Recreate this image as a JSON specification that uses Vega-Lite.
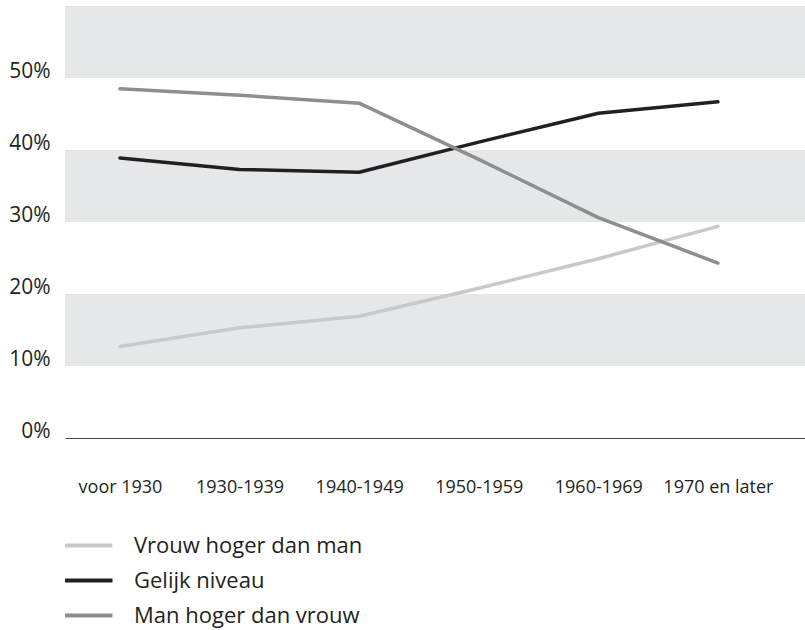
{
  "$schema": "https://vega.github.io/schema/vega-lite/v6.json",
  "width": 740,
  "height": 432,
  "autosize": "none",
  "padding": {"left": 65, "top": 6, "right": 0, "bottom": 192},
  "background": "white",
  "config": {
    "view": {"stroke": null},
    "font": "Open Sans",
    "text": {"font": "Open Sans"}
  },
  "datasets": {
    "bands": [
      {"lo": 50, "hi": 60},
      {"lo": 30, "hi": 40},
      {"lo": 10, "hi": 20}
    ],
    "series": [
      {"periode": "voor 1930", "reeks": "Vrouw hoger dan man", "waarde": 12.7},
      {"periode": "1930-1939", "reeks": "Vrouw hoger dan man", "waarde": 15.3},
      {"periode": "1940-1949", "reeks": "Vrouw hoger dan man", "waarde": 16.9},
      {"periode": "1950-1959", "reeks": "Vrouw hoger dan man", "waarde": 20.8},
      {"periode": "1960-1969", "reeks": "Vrouw hoger dan man", "waarde": 24.9},
      {"periode": "1970 en later", "reeks": "Vrouw hoger dan man", "waarde": 29.4},
      {"periode": "voor 1930", "reeks": "Gelijk niveau", "waarde": 38.9},
      {"periode": "1930-1939", "reeks": "Gelijk niveau", "waarde": 37.3},
      {"periode": "1940-1949", "reeks": "Gelijk niveau", "waarde": 36.9},
      {"periode": "1950-1959", "reeks": "Gelijk niveau", "waarde": 41.1},
      {"periode": "1960-1969", "reeks": "Gelijk niveau", "waarde": 45.1},
      {"periode": "1970 en later", "reeks": "Gelijk niveau", "waarde": 46.7},
      {"periode": "voor 1930", "reeks": "Man hoger dan vrouw", "waarde": 48.5},
      {"periode": "1930-1939", "reeks": "Man hoger dan vrouw", "waarde": 47.6},
      {"periode": "1940-1949", "reeks": "Man hoger dan vrouw", "waarde": 46.5},
      {"periode": "1950-1959", "reeks": "Man hoger dan vrouw", "waarde": 38.7},
      {"periode": "1960-1969", "reeks": "Man hoger dan vrouw", "waarde": 30.6},
      {"periode": "1970 en later", "reeks": "Man hoger dan vrouw", "waarde": 24.3}
    ]
  },
  "layer": [
    {
      "data": {"name": "bands"},
      "mark": {"type": "rect", "color": "#e6e7e8"},
      "encoding": {
        "y": {
          "field": "lo",
          "type": "quantitative",
          "scale": {"domain": [0, 60], "nice": false},
          "axis": {
            "title": null,
            "values": [0, 10, 20, 30, 40, 50],
            "format": ".0f",
            "labelExpr": "datum.label + '%'",
            "ticks": false,
            "grid": false,
            "domain": false,
            "labelFont": "Open Sans",
            "labelFontSize": 21,
            "labelColor": "#231f20",
            "labelPadding": 15,
            "labelOffset": -7
          }
        },
        "y2": {"field": "hi"}
      }
    },
    {
      "data": {"name": "series"},
      "mark": {"type": "line", "strokeWidth": 3.5, "strokeCap": "round", "strokeJoin": "round"},
      "encoding": {
        "x": {
          "field": "periode",
          "type": "ordinal",
          "sort": ["voor 1930", "1930-1939", "1940-1949", "1950-1959", "1960-1969", "1970 en later"],
          "scale": {"type": "point", "padding": 0.594, "align": 0.387},
          "axis": {
            "title": null,
            "ticks": false,
            "grid": false,
            "domain": true,
            "domainColor": "#444444",
            "domainWidth": 1.2,
            "labelFont": "Open Sans",
            "labelFontSize": 18,
            "labelColor": "#231f20",
            "labelPadding": 40,
            "labelAngle": 0
          }
        },
        "y": {
          "field": "waarde",
          "type": "quantitative"
        },
        "color": {
          "field": "reeks",
          "type": "nominal",
          "scale": {
            "domain": ["Vrouw hoger dan man", "Gelijk niveau", "Man hoger dan vrouw"],
            "range": ["#c8c9ca", "#231f20", "#8d8e90"]
          },
          "legend": {
            "title": null,
            "orient": "none",
            "legendX": -2,
            "legendY": 528,
            "direction": "vertical",
            "symbolType": "M-1,0H4",
            "symbolSize": 361,
            "symbolStrokeWidth": 4,
            "labelFont": "Open Sans",
            "labelFontSize": 22,
            "labelColor": "#231f20",
            "labelOffset": 48,
            "labelLimit": 0,
            "rowPadding": 12,
            "padding": 0
          }
        }
      }
    }
  ]
}
